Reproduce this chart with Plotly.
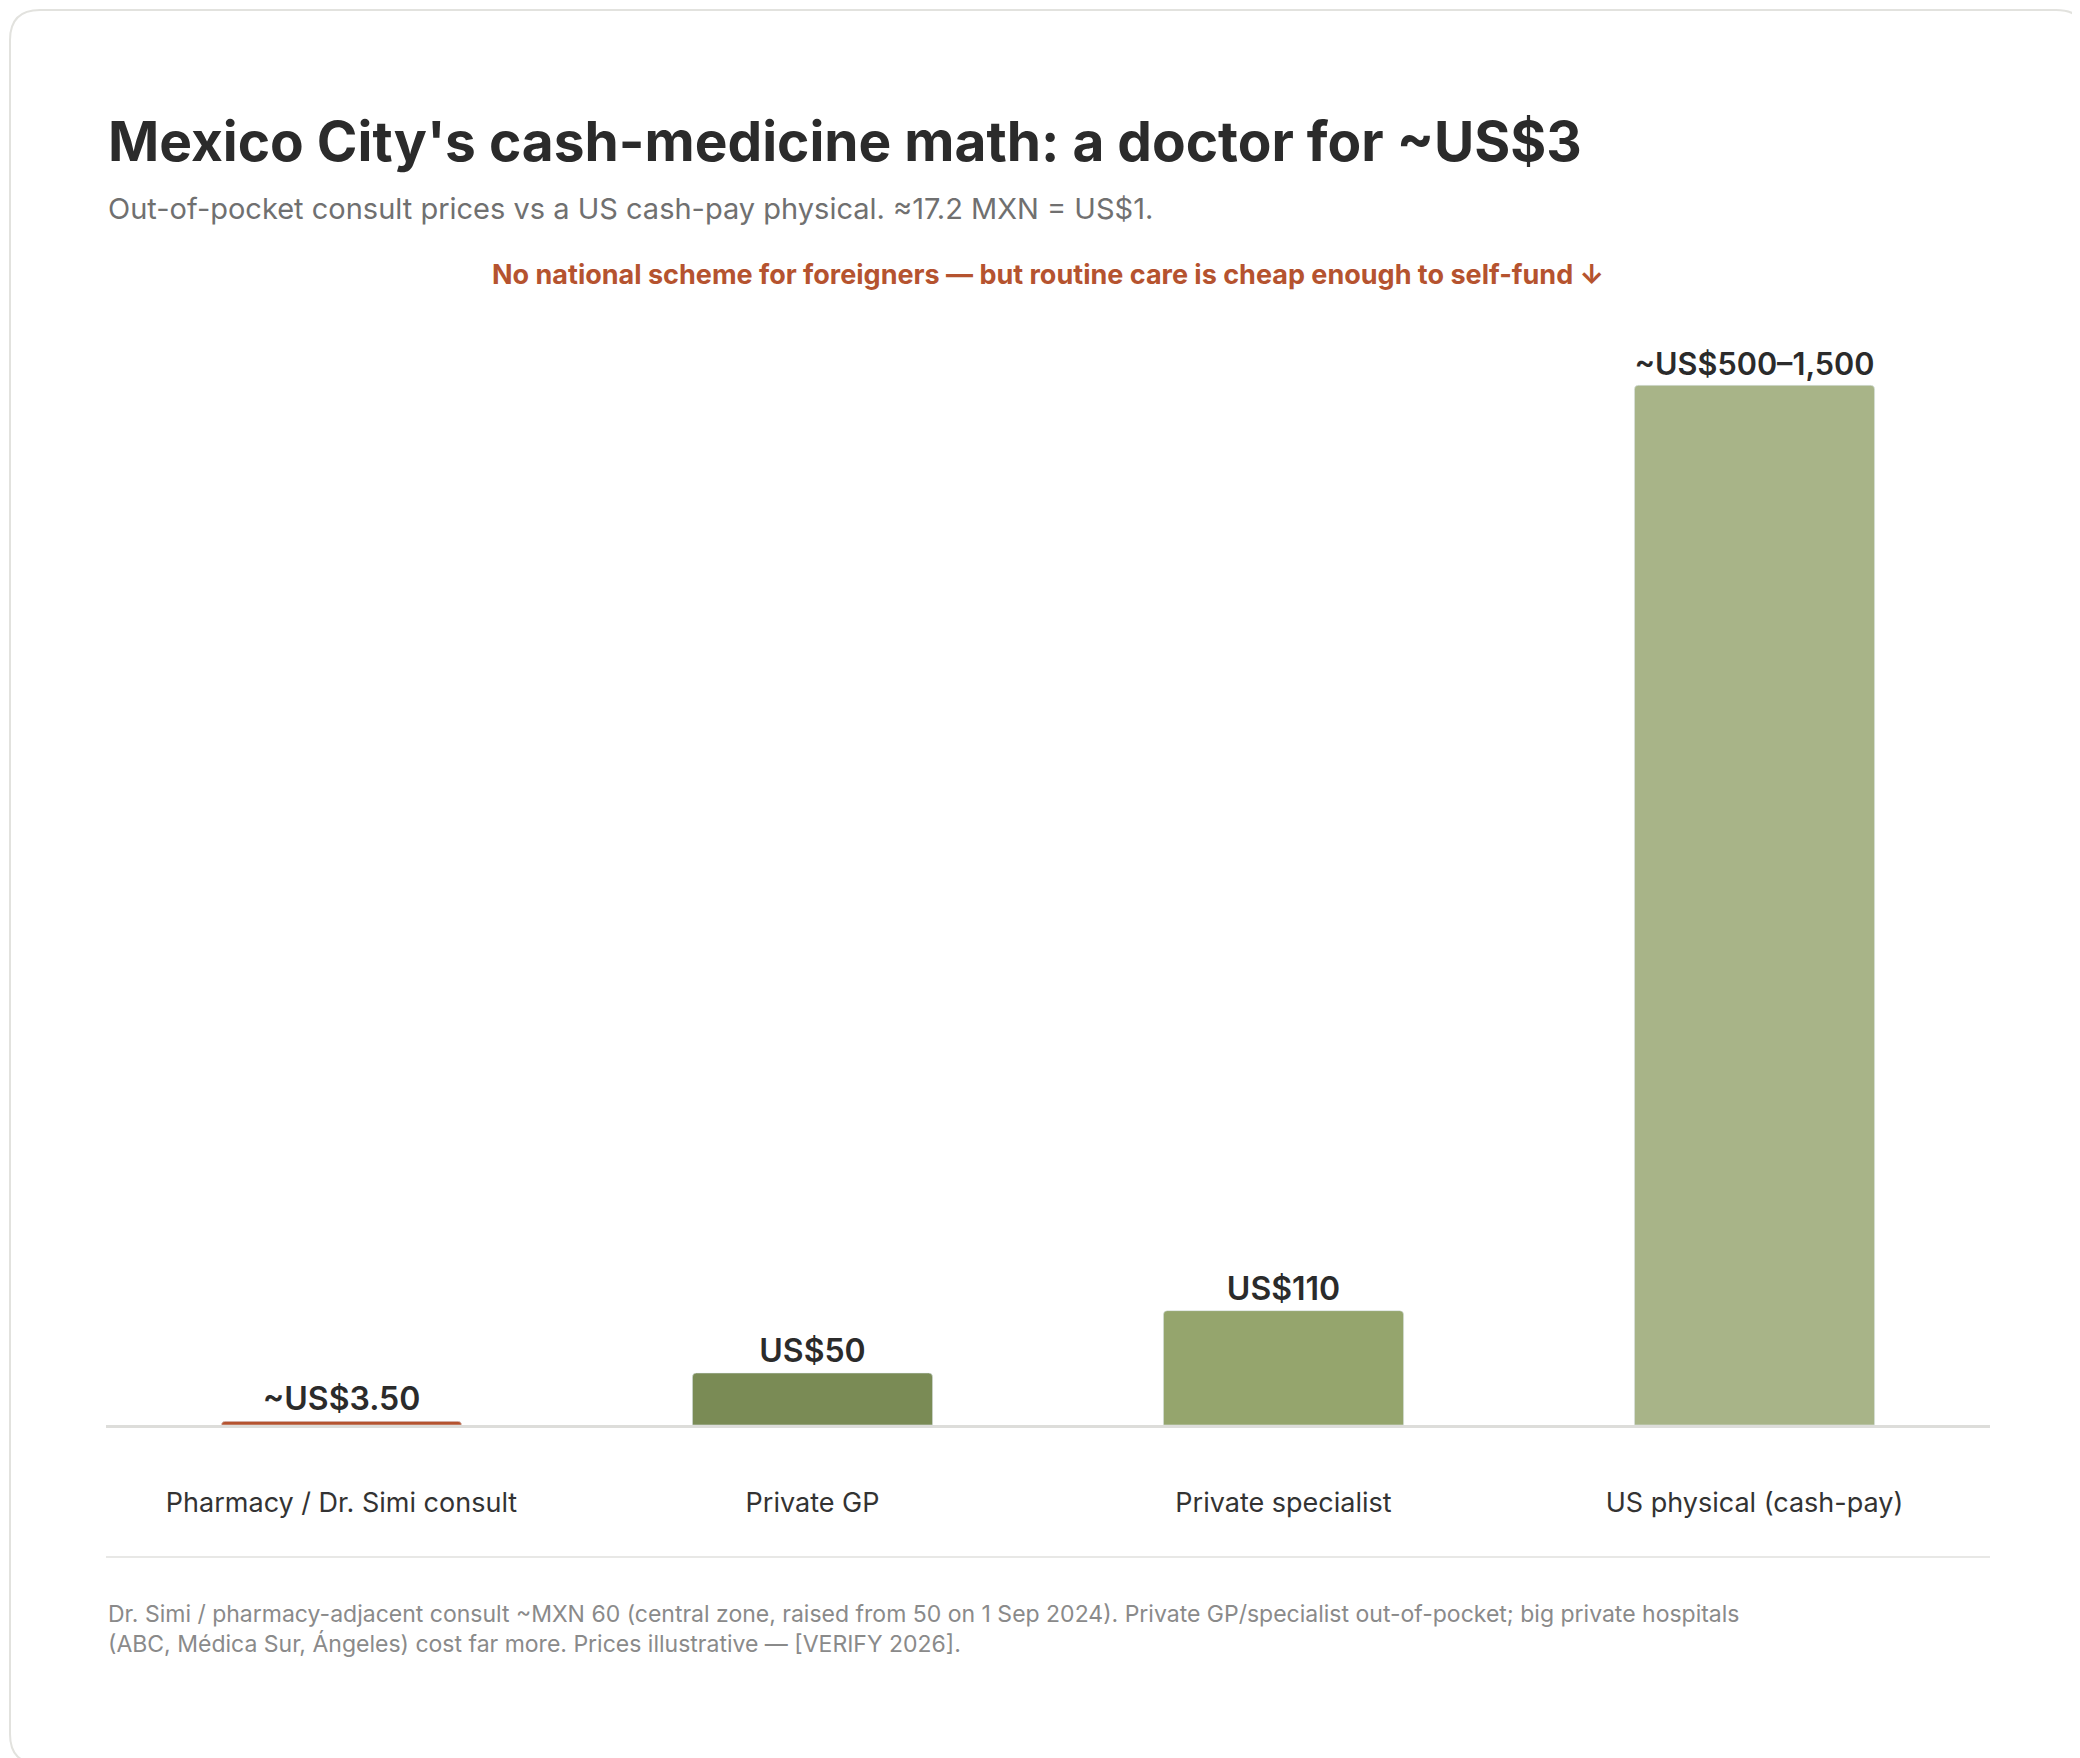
import plotly.graph_objects as go

# chart values
categories = ["Pharmacy / Dr. Simi consult", "Private GP", "Private specialist", "US physical (cash-pay)"]
values = [3.5, 50, 110, 1000]
bar_labels = ["~US$3.50", "US$50", "US$110", "~US$500–1,500"]
colors = ["#B5532F", "#7A8B55", "#95A56D", "#A8B488"]

W, H = 2080, 1758
L, R, T, B = 98, 98, 318, 341
pw, ph = W - L - R, H - T - B


def px(x):
    return (x - L) / pw


def py(y):
    return (H - B - y) / ph


FONT = "Inter, Roboto, sans-serif"

fig = go.Figure(go.Bar(
    x=categories, y=values, text=bar_labels, textposition="outside",
    marker=dict(color=colors, cornerradius=4), width=0.51, cliponaxis=False,
    textfont=dict(family=FONT, size=32, color="#2b2b2b", weight=600),
))

# card outline with rounded corners
r = 30
x0, x1, y0, y1 = px(2), px(W - 2), py(2), py(H - 2)
rx, ry = r / pw, r / ph
card = (f"M {x0+rx},{y0} L {x1-rx},{y0} Q {x1},{y0} {x1},{y0-ry} "
        f"L {x1},{y1+ry} Q {x1},{y1} {x1-rx},{y1} L {x0+rx},{y1} "
        f"Q {x0},{y1} {x0},{y1+ry} L {x0},{y0-ry} Q {x0},{y0} {x0+rx},{y0} Z")
shapes = [
    dict(type="path", xref="paper", yref="paper", path=card,
         line=dict(color="#E2E2DE", width=2), layer="below"),
    dict(type="line", xref="paper", yref="paper", x0=0, x1=1, y0=py(1549), y1=py(1549),
         line=dict(color="#E8E8E6", width=2)),
]

annotations = [
    dict(text="<b>Mexico City's cash-medicine math: a doctor for ~US$3</b>", x=0, y=py(133),
         font=dict(family=FONT, size=55, color="#2b2b2b")),
    dict(text="Out-of-pocket consult prices vs a US cash-pay physical. ≈17.2 MXN = US$1.",
         x=0, y=py(201), font=dict(family=FONT, size=29, color="#707070")),
    dict(text="<b>No national scheme for foreigners — but routine care is cheap enough to self-fund ↓</b>",
         x=0.5, xanchor="center", y=py(266), font=dict(family=FONT, size=27, color="#B5532F")),
    dict(text="Dr. Simi / pharmacy-adjacent consult ~MXN 60 (central zone, raised from 50 on 1 Sep 2024). "
              "Private GP/specialist out-of-pocket; big private hospitals<br>(ABC, Médica Sur, Ángeles) cost far more. "
              "Prices illustrative — [VERIFY 2026].",
         x=0, y=py(1621), align="left", font=dict(family=FONT, size=23, color="#8a8a8a")),
]
for a in annotations:
    a.setdefault("xanchor", "left")
    a.update(xref="paper", yref="paper", yanchor="middle", showarrow=False)

fig.update_layout(
    width=W, height=H, margin=dict(l=L, r=R, t=T, b=B),
    paper_bgcolor="white", plot_bgcolor="white", showlegend=False,
    shapes=shapes, annotations=annotations,
    xaxis=dict(showline=True, linecolor="#DDDDDA", linewidth=3, ticks="",
               tickfont=dict(family=FONT, size=27, color="#333333"), ticklabelstandoff=52),
    yaxis=dict(range=[0, 1057], visible=False, showgrid=False),
)

fig.write_html("out.html")
